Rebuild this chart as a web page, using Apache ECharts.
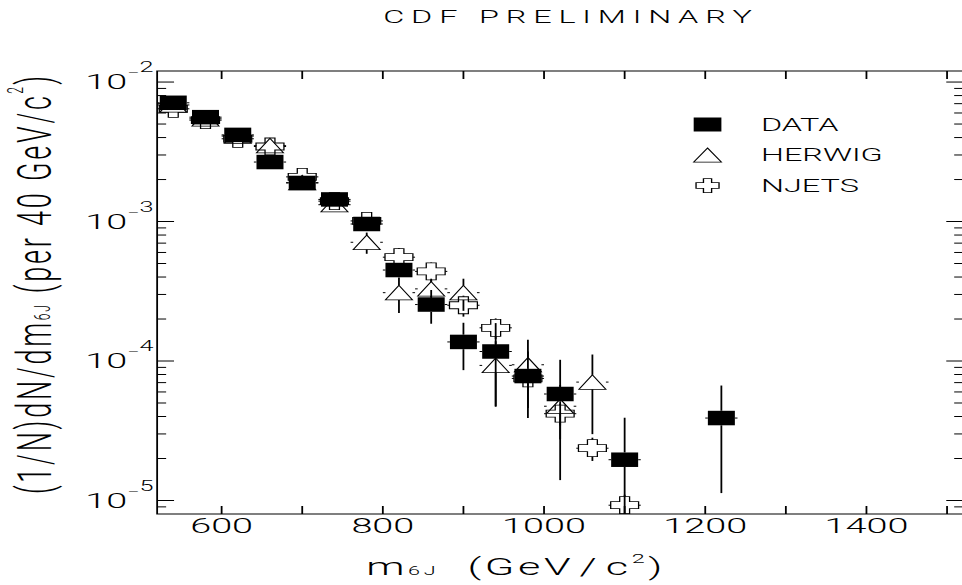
<!DOCTYPE html>
<html>
<head>
<meta charset="utf-8">
<script src="https://cdn.jsdelivr.net/npm/echarts@6/dist/echarts.min.js"></script>
<style>
html,body{margin:0;padding:0;background:#fff;overflow:hidden;width:962px;height:585px;}
#chart{width:540px;height:585px;transform:scaleX(1.8);transform-origin:0 0;}
</style>
</head>
<body>
<div id="chart"></div>
<script>
// ---------------- data ----------------
const masses = [540, 580, 620, 660, 700, 740, 780, 820, 860, 900, 940, 980, 1020, 1060, 1100, 1140, 1180, 1220];
const binHalfWidth = 20;

const dataValues = [7.1e-3, 5.6e-3, 4.18e-3, 2.67e-3, 1.89e-3, 1.44e-3, 9.6e-4, 4.49e-4, 2.54e-4, 1.37e-4, 1.17e-4, 7.8e-5, 5.8e-5, null, 1.96e-5, null, null, 3.9e-5];
const dataErrors = [1.5e-4, 1.3e-4, 1.1e-4, 0.9e-4, 0.75e-4, 0.65e-4, 0.6e-4, 0.45e-4, 0.69e-4, 0.51e-4, 0.70e-4, 0.39e-4, 0.44e-4, null, 1.96e-5, null, null, 2.77e-5];

const herwigValues = [6.85e-3, 5.45e-3, 4.1e-3, 3.5e-3, 1.9e-3, 1.32e-3, 7.1e-4, 3.09e-4, 3.29e-4, 3.09e-4, 9.3e-5, 9.4e-5, 4.74e-5, 7.06e-5, null, null, null, null];
const herwigErrors = [1.5e-4, 1.3e-4, 1.1e-4, 1.0e-4, 0.7e-4, 0.6e-4, 1.23e-4, 0.88e-4, 0.6e-4, 0.8e-4, 4.56e-5, 4.8e-5, 2.0e-5, 4.07e-5, null, null, null, null];

const njetsValues = [6.43e-3, 5.33e-3, 3.92e-3, 3.45e-3, 2.09e-3, 1.40e-3, 1.01e-3, 5.55e-4, 4.39e-4, 2.51e-4, 1.73e-4, 7.5e-5, 4.19e-5, 2.37e-5, 9.25e-6, null, null, null];
const njetsErrors = [1.9e-4, 1.6e-4, 1.6e-4, 1.7e-4, 1.25e-4, 1.1e-4, 1.0e-4, 0.9e-4, 0.7e-4, 0.43e-4, 0.29e-4, 1.35e-5, 0.75e-5, 0.45e-5, 1.75e-6, null, null, null];

const xTickValues = [600, 700, 800, 900, 1000, 1100, 1200, 1300, 1400, 1500];
const xLabelValues = [600, 800, 1000, 1200, 1400];
const yMajorTicks = [1e-5, 1e-4, 1e-3, 1e-2];
const yMinorMultipliers = [2, 3, 4, 5, 6, 7, 8, 9];
const yDecades = [1e-6, 1e-5, 1e-4, 1e-3];

const xMin = 520, xMax = 1520;
const yMin = 8.0e-6, yMax = 1.2e-2;

// ---------------- helpers ----------------
const FONT = 'Roboto';
const FW = 300;

function spaced(segments) {
  return segments.map(function (seg) {
    return seg[0].split('').map(function (c) { return '{' + seg[1] + '|' + c + '}'; }).join('');
  }).join('');
}

function pairs(vals) {
  const out = [];
  masses.forEach(function (m, i) { if (vals[i] != null) out.push([m, vals[i]]); });
  return out;
}

function errItems(vals, errs) {
  const out = [];
  masses.forEach(function (m, i) {
    if (vals[i] == null) return;
    const lo = vals[i] - errs[i];
    out.push([m, vals[i], lo > yMin ? lo : yMin, vals[i] + errs[i]]);
  });
  return out;
}

function errorSeries(vals, errs, hw, hh) {
  return {
    type: 'custom',
    silent: true,
    z: 2,
    data: errItems(vals, errs),
    encode: { x: 0, y: 1 },
    renderItem: function (params, api) {
      const cs = params.coordSys;
      const m = api.value(0), v = api.value(1), lo = api.value(2), hi = api.value(3);
      const c = api.coord([m, v]);
      const pl = api.coord([m - binHalfWidth, v]);
      const pr = api.coord([m + binHalfWidth, v]);
      const plo = api.coord([m, lo]);
      const phi = api.coord([m, hi]);
      const bottom = cs.y + cs.height;
      const st = { stroke: '#000', lineWidth: 1 };
      const ch = [];
      function ln(x1, y1, x2, y2) { ch.push({ type: 'line', shape: { x1: x1, y1: y1, x2: x2, y2: y2 }, style: st }); }
      if (phi[1] < c[1] - hh) ln(c[0], c[1] - hh, c[0], Math.max(phi[1], cs.y));
      if (plo[1] > c[1] + hh) ln(c[0], c[1] + hh, c[0], Math.min(plo[1], bottom));
      if (pl[0] < c[0] - hw) ln(pl[0], c[1], c[0] - hw, c[1]);
      if (pr[0] > c[0] + hw) ln(c[0] + hw, c[1], pr[0], c[1]);
      return { type: 'group', children: ch };
    }
  };
}

const yTickItems = [];
yMajorTicks.forEach(function (t) { yTickItems.push([xMin, t, 1]); });
yDecades.forEach(function (d) {
  yMinorMultipliers.forEach(function (k) {
    const t = k * d;
    if (t > yMin && t < yMax) yTickItems.push([xMin, t, 0]);
  });
});
const xTickItems = xTickValues.map(function (t) { return [t, yMax]; });

// ---------------- chart ----------------
const chart = echarts.init(document.getElementById('chart'), null, { renderer: 'svg' });

const option = {
  animation: false,
  backgroundColor: '#fff',
  title: {
    text: spaced([['CDF PRELIMINARY', 't']]),
    left: 211,
    top: 8,
    padding: 0,
    textStyle: {
      rich: { t: { fontFamily: FONT, fontWeight: FW, fontSize: 18, color: '#000', padding: [0, 1.9, 0, 1.9] } }
    }
  },
  legend: {
    data: ['DATA', 'HERWIG', 'NJETS'],
    orient: 'vertical',
    left: 385,
    top: 115.5,
    padding: 0,
    itemWidth: 15.4,
    itemHeight: 14,
    itemGap: 12.5,
    selectedMode: false,
    itemStyle: { borderWidth: 0.75 },
    textStyle: { fontFamily: FONT, fontWeight: FW, fontSize: 18, color: '#000', lineHeight: 18, padding: [0, 0, 0, 17] }
  },
  grid: {
    left: 87.3, right: 4.9, top: 71, bottom: 71,
    show: true, borderColor: '#000', borderWidth: 1, backgroundColor: 'transparent',
    containLabel: false, outerBoundsMode: 'none'
  },
  xAxis: {
    type: 'value', min: xMin, max: xMax,
    axisLine: { show: false }, axisTick: { show: false }, splitLine: { show: false },
    axisLabel: {
      margin: 1,
      fontFamily: FONT, fontWeight: FW, fontSize: 21, color: '#000',
      formatter: function (v) { return xLabelValues.indexOf(v) >= 0 ? String(v) : ''; }
    },
    name: spaced([['m', 'n'], ['6J', 'sub'], ['  (GeV', 'n'], ['/', 'sl'], ['c', 'n'], ['2', 'sup'], [')', 'n']]),
    nameLocation: 'middle',
    nameGap: 38,
    nameTextStyle: {
      padding: [0, 51, 0, 0],
      rich: {
        n: { fontFamily: FONT, fontWeight: FW, fontSize: 24, lineHeight: 30, color: '#000', padding: [0, 1, 0, 1] },
        sl: { fontFamily: FONT, fontWeight: FW, fontSize: 24, lineHeight: 30, color: '#000', padding: [0, 4, 0, 4] },
        sub: { fontFamily: FONT, fontWeight: FW, fontSize: 12, lineHeight: 12, color: '#000', verticalAlign: 'bottom', padding: [0, 1, 5, 1] },
        sup: { fontFamily: FONT, fontWeight: FW, fontSize: 13, lineHeight: 13, color: '#000', verticalAlign: 'top', padding: [0, 1, 0, 1] }
      }
    }
  },
  yAxis: {
    type: 'log', logBase: 10, min: yMin, max: yMax,
    axisLine: { show: false }, axisTick: { show: false }, splitLine: { show: false }, minorTick: { show: false },
    axisLabel: {
      margin: 2,
      formatter: function (v) {
        const e = Math.log10(v);
        const r = Math.round(e);
        if (Math.abs(e - r) > 1e-6) return '';
        return '{b|10}{m|\u2212}{s|' + (-r) + '}';
      },
      rich: {
        b: { fontFamily: FONT, fontWeight: FW, fontSize: 21, lineHeight: 49, color: '#000' },
        m: { fontFamily: FONT, fontWeight: FW, fontSize: 12, lineHeight: 12, color: '#000', verticalAlign: 'top', padding: [9.5, 0, 0, 0] },
        s: { fontFamily: FONT, fontWeight: FW, fontSize: 14, lineHeight: 14, color: '#000', verticalAlign: 'top', padding: [3, 0, 0, 0] }
      }
    },
    name: spaced([['(1/N)dN/dm', 'n'], ['6J', 'sub'], [' (per 40 GeV/c', 'n'], ['2', 'sup'], [')', 'n']]),
    nameLocation: 'middle',
    nameRotate: 90,
    nameGap: 45,
    nameTextStyle: {
      padding: [0, 0, 0, 15],
      rich: {
        n: { fontFamily: FONT, fontWeight: FW, fontSize: 27, lineHeight: 34, color: '#000', padding: [0, 1.4, 0, 1.4] },
        sub: { fontFamily: FONT, fontWeight: FW, fontSize: 12, lineHeight: 12, color: '#000', verticalAlign: 'bottom', padding: [0, 1, 7, 1] },
        sup: { fontFamily: FONT, fontWeight: FW, fontSize: 12, lineHeight: 12, color: '#000', verticalAlign: 'top', padding: [0, 1, 0, 1] }
      }
    }
  },
  series: [
    {
      type: 'custom', name: 'yticks', silent: true, z: 5,
      data: yTickItems, encode: { x: 0, y: 1 },
      renderItem: function (params, api) {
        const cs = params.coordSys;
        const y = api.coord([xMin, api.value(1)])[1];
        const len = api.value(2) ? 9.4 : 5;
        const st = { stroke: '#000', lineWidth: 1 };
        return { type: 'group', children: [
          { type: 'line', shape: { x1: cs.x, y1: y, x2: cs.x + len, y2: y }, style: st },
          { type: 'line', shape: { x1: cs.x + cs.width, y1: y, x2: cs.x + cs.width - len, y2: y }, style: st }
        ] };
      }
    },
    {
      type: 'custom', name: 'xticks', silent: true, z: 5,
      data: xTickItems, encode: { x: 0, y: 1 },
      renderItem: function (params, api) {
        const cs = params.coordSys;
        const x = api.coord([api.value(0), yMax])[0];
        const st = { stroke: '#000', lineWidth: 1 };
        return { type: 'group', children: [
          { type: 'line', shape: { x1: x, y1: cs.y + cs.height, x2: x, y2: cs.y + cs.height - 8 }, style: st },
          { type: 'line', shape: { x1: x, y1: cs.y, x2: x, y2: cs.y + 8 }, style: st }
        ] };
      }
    },
    errorSeries(njetsValues, njetsErrors, 7.75, 8.5),
    errorSeries(herwigValues, herwigErrors, 7.5, 7.25),
    errorSeries(dataValues, dataErrors, 7.5, 7.25),
    {
      type: 'scatter', name: 'NJETS', z: 3,
      symbol: 'path://M5,0H10.5V5H15.5V12H10.5V17H5V12H0V5H5Z',
      symbolSize: [15.5, 17],
      itemStyle: { color: 'rgba(255,255,255,0)', borderColor: '#000', borderWidth: 0.75, opacity: 1 },
      data: pairs(njetsValues)
    },
    {
      type: 'scatter', name: 'HERWIG', z: 3,
      symbol: 'triangle',
      symbolSize: [15, 14.5],
      itemStyle: { color: 'rgba(255,255,255,0)', borderColor: '#000', borderWidth: 0.75, opacity: 1 },
      data: pairs(herwigValues)
    },
    {
      type: 'scatter', name: 'DATA', z: 4,
      symbol: 'rect',
      symbolSize: [15, 14.5],
      itemStyle: { color: '#000', opacity: 1 },
      data: pairs(dataValues)
    }
  ]
};

chart.setOption(option);
</script>
</body>
</html>
